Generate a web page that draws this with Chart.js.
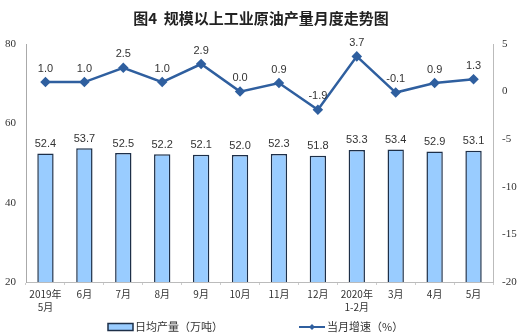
<!DOCTYPE html>
<html>
<head>
<meta charset="utf-8">
<script src="https://cdn.jsdelivr.net/npm/chart.js@4/dist/chart.umd.min.js"></script>
<style>
  html, body { margin: 0; padding: 0; background: #fff; }
  #wrap { width: 522px; height: 334px; }
</style>
</head>
<body>
<div id="wrap"><canvas id="c" width="522" height="334"></canvas></div>
<script>
// Monthly crude oil output: daily average (bars, left axis) and growth (line, right axis).
const MONTHS = [
  ["2019年", "5月"], "6月", "7月", "8月", "9月", "10月", "11月", "12月",
  ["2020年", "1-2月"], "3月", "4月", "5月",
];
const DAILY_OUTPUT = [52.4, 53.7, 52.5, 52.2, 52.1, 52.0, 52.3, 51.8, 53.3, 53.4, 52.9, 53.1];
const GROWTH = [1.0, 1.0, 2.5, 1.0, 2.9, 0.0, 0.9, -1.9, 3.7, -0.1, 0.9, 1.3];

const LEFT_TICKS = [20, 40, 60, 80];
const RIGHT_TICKS = [-20, -15, -10, -5, 0, 5];

const BAR_FILL = "#99ccff";
const BAR_EDGE = "#1d2f48";
const LINE_COLOR = "#2f5f9f";
const TEXT = "#333";
const SANS = "'Liberation Sans', Arial, sans-serif";
const CJK = "'Noto Sans CJK SC', sans-serif";
const SERIF = "'Liberation Serif', 'Times New Roman', serif";

// value labels above bars and points
const valueLabels = {
  id: "valueLabels",
  afterDatasetsDraw(chart) {
    const ctx = chart.ctx;
    ctx.save();
    ctx.font = "11px " + SANS;
    ctx.fillStyle = TEXT;
    ctx.textAlign = "center";
    ctx.textBaseline = "bottom";
    chart.data.datasets.forEach((ds, i) => {
      const meta = chart.getDatasetMeta(i);
      meta.data.forEach((el, j) => {
        const off = ds.type === "line" ? 8 : 4;
        ctx.fillText(ds.data[j].toFixed(1), el.x, el.y - off);
      });
    });
    ctx.restore();
  },
};

// bottom legend: box for bars, line+diamond for growth
const bottomLegend = {
  id: "bottomLegend",
  afterDraw(chart) {
    const ctx = chart.ctx;
    const y = 327;
    ctx.save();
    ctx.fillStyle = BAR_FILL;
    ctx.strokeStyle = BAR_EDGE;
    ctx.lineWidth = 1.5;
    ctx.fillRect(108, y - 3.5, 25, 7);
    ctx.strokeRect(108, y - 3.5, 25, 7);

    ctx.strokeStyle = LINE_COLOR;
    ctx.lineWidth = 2;
    ctx.beginPath();
    ctx.moveTo(299, y);
    ctx.lineTo(325, y);
    ctx.stroke();
    ctx.fillStyle = LINE_COLOR;
    ctx.beginPath();
    ctx.moveTo(312, y - 3);
    ctx.lineTo(315, y);
    ctx.lineTo(312, y + 3);
    ctx.lineTo(309, y);
    ctx.closePath();
    ctx.fill();

    ctx.font = "11px " + CJK;
    ctx.fillStyle = TEXT;
    ctx.textBaseline = "middle";
    ctx.textAlign = "left";
    ctx.fillText("日均产量（万吨）", 135, y);
    ctx.fillText("当月增速（%）", 327, y);
    ctx.restore();
  },
};

new Chart(document.getElementById("c"), {
  data: {
    labels: MONTHS,
    datasets: [
      {
        type: "line",
        label: "当月增速（%）",
        data: GROWTH,
        yAxisID: "y2",
        borderColor: LINE_COLOR,
        backgroundColor: LINE_COLOR,
        borderWidth: 2.5,
        pointStyle: "rectRot",
        pointRadius: 3.5,
        pointBackgroundColor: LINE_COLOR,
        pointBorderColor: LINE_COLOR,
        tension: 0,
        clip: false,
        order: 0,
      },
      {
        type: "bar",
        label: "日均产量（万吨）",
        data: DAILY_OUTPUT,
        yAxisID: "y",
        backgroundColor: BAR_FILL,
        borderColor: BAR_EDGE,
        borderWidth: 1.5,
        barPercentage: 0.42,
        categoryPercentage: 1,
        order: 1,
      },
    ],
  },
  options: {
    responsive: false,
    animation: false,
    devicePixelRatio: 1,
    layout: { padding: { top: 0, bottom: 22, left: 0, right: 0 } },
    plugins: {
      legend: { display: false },
      tooltip: { enabled: false },
      title: {
        display: true,
        text: "图4  规模以上工业原油产量月度走势图",
        color: "#222",
        font: { family: CJK, size: 15, weight: "bold", lineHeight: 1.2 },
        padding: { top: 9, bottom: 17 },
      },
    },
    scales: {
      x: {
        offset: true,
        grid: { offset: true, drawOnChartArea: false, tickLength: 3, color: "#ccc" },
        border: { color: "#bbb" },
        ticks: {
          color: TEXT,
          font: { family: CJK, size: 10, lineHeight: 1.35 },
          maxRotation: 0,
          autoSkip: false,
          padding: 2,
        },
        afterFit: (s) => { s.height = 30; },
      },
      y: {
        position: "left",
        min: 20,
        max: 80,
        afterBuildTicks: (s) => { s.ticks = LEFT_TICKS.map((v) => ({ value: v })); },
        grid: { display: false, drawTicks: false },
        border: { color: "#aaa" },
        ticks: { color: TEXT, font: { family: SERIF, size: 11 }, padding: 10 },
        afterFit: (s) => { s.width = 26; },
      },
      y2: {
        position: "right",
        min: -20,
        max: 5,
        afterBuildTicks: (s) => { s.ticks = RIGHT_TICKS.map((v) => ({ value: v })); },
        grid: { display: false, drawTicks: false },
        border: { color: "#bbb" },
        ticks: { color: TEXT, font: { family: SERIF, size: 11 }, padding: 9 },
        afterFit: (s) => { s.width = 29; },
      },
    },
  },
  plugins: [valueLabels, bottomLegend],
});
</script>
</body>
</html>
